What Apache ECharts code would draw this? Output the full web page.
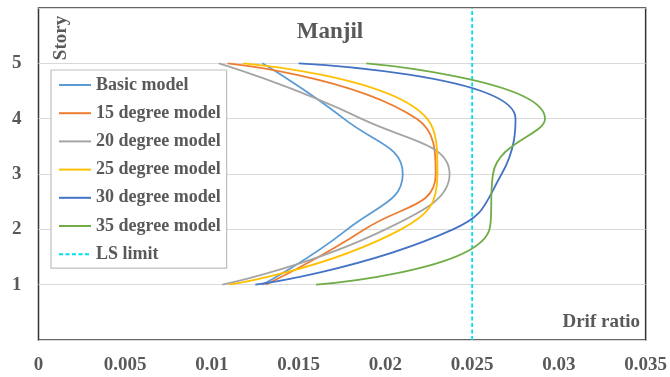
<!DOCTYPE html>
<html>
<head>
<meta charset="utf-8">
<script src="https://cdn.jsdelivr.net/npm/echarts@6/dist/echarts.min.js"></script>
<style>
  html, body { margin: 0; padding: 0; background: #ffffff; }
  #chart { width: 670px; height: 377px; }
</style>
</head>
<body>
<div id="chart"></div>
<script>
// Inter-story drift ratio per story, Manjil record
const stories = [1, 2, 3, 4, 5];
const basicModel = [0.0129, 0.0178, 0.0210, 0.0176, 0.0129];
const deg15Model = [0.0131, 0.0188, 0.0229, 0.0218, 0.0109];
const deg20Model = [0.0106, 0.0200, 0.0237, 0.0186, 0.0104];
const deg25Model = [0.0110, 0.0209, 0.0230, 0.0224, 0.0118];
const deg30Model = [0.0125, 0.0239, 0.0267, 0.0275, 0.0150];
const deg35Model = [0.0160, 0.0260, 0.0262, 0.0292, 0.0189];
const lsLimit = 0.025;
const lsSpan = [0, 6];

const seriesNames = ['Basic model', '15 degree model', '20 degree model',
  '25 degree model', '30 degree model', '35 degree model'];
const seriesColors = ['#5b9bd5', '#ed7d31', '#a5a5a5', '#ffc000', '#4472c4', '#70ad47'];
const xTickLabels = ['0', '0.005', '0.01', '0.015', '0.02', '0.025', '0.03', '0.035'];
const yTickLabels = ['', '1', '2', '3', '4', '5', ''];

const FONT = 'Liberation Serif, Times New Roman, serif';
const TEXT = '#595959';

const profiles = [basicModel, deg15Model, deg20Model, deg25Model, deg30Model, deg35Model];

const series = profiles.map((vals, i) => ({
  name: seriesNames[i],
  type: 'line',
  data: vals.map((v, k) => [v, stories[k]]),
  symbol: 'none',
  smooth: 0.5,
  lineStyle: { width: 1.8, color: seriesColors[i] },
  itemStyle: { color: seriesColors[i] },
  z: 3
}));

series.push({
  name: 'LS limit',
  type: 'line',
  data: lsSpan.map(s => [lsLimit, s]),
  symbol: 'none',
  lineStyle: { width: 1.8, color: '#00e0ee', type: [4, 2.5] },
  itemStyle: { color: '#00e0ee' },
  z: 2
});

const chart = echarts.init(document.getElementById('chart'), null, { renderer: 'canvas' });

chart.setOption({
  animation: false,
  backgroundColor: '#ffffff',
  title: {
    text: 'Manjil',
    left: 325,
    top: 16,
    textAlign: 'center',
    textStyle: { fontFamily: FONT, fontWeight: 'bold', fontSize: 23, color: TEXT }
  },
  grid: {
    left: 38.5, right: 22, top: 8, bottom: 37,
    show: true, borderColor: '#333333', borderWidth: 1.5, backgroundColor: 'transparent'
  },
  xAxis: {
    type: 'value',
    min: 0, max: 0.035, interval: 0.005,
    axisLine: { show: false },
    axisTick: { show: false },
    splitLine: { show: false },
    axisLabel: {
      margin: 16,
      fontFamily: FONT, fontWeight: 'bold', fontSize: 19, color: TEXT,
      formatter: v => xTickLabels[Math.round(v / 0.005)]
    }
  },
  yAxis: {
    type: 'value',
    min: 0, max: 6, interval: 1,
    axisLine: { show: false },
    axisTick: { show: false },
    splitLine: { show: true, lineStyle: { color: '#d9d9d9', width: 1.2 } },
    axisLabel: {
      margin: 17,
      fontFamily: FONT, fontWeight: 'bold', fontSize: 19, color: TEXT,
      formatter: v => yTickLabels[Math.round(v)]
    }
  },
  legend: {
    orient: 'vertical',
    left: 51, top: 70,
    padding: [6, 6, 5, 7],
    itemWidth: 32, itemHeight: 14, itemGap: 10.2,
    backgroundColor: '#ffffff',
    borderColor: '#bfbfbf', borderWidth: 1.2, borderRadius: 0,
    itemStyle: { opacity: 0 },
    data: seriesNames.concat(['LS limit']),
    textStyle: { fontFamily: FONT, fontWeight: 'bold', fontSize: 18, color: TEXT }
  },
  graphic: [
    {
      type: 'text',
      x: 61.5, y: 38,
      rotation: Math.PI / 2,
      style: {
        text: 'Story', fill: TEXT,
        font: 'bold 19px ' + FONT,
        align: 'center', verticalAlign: 'middle'
      }
    },
    {
      type: 'text',
      x: 640, y: 322,
      style: {
        text: 'Drif ratio', fill: TEXT,
        font: 'bold 19px ' + FONT,
        align: 'right', verticalAlign: 'middle'
      }
    }
  ],
  series: series
});
</script>
</body>
</html>
